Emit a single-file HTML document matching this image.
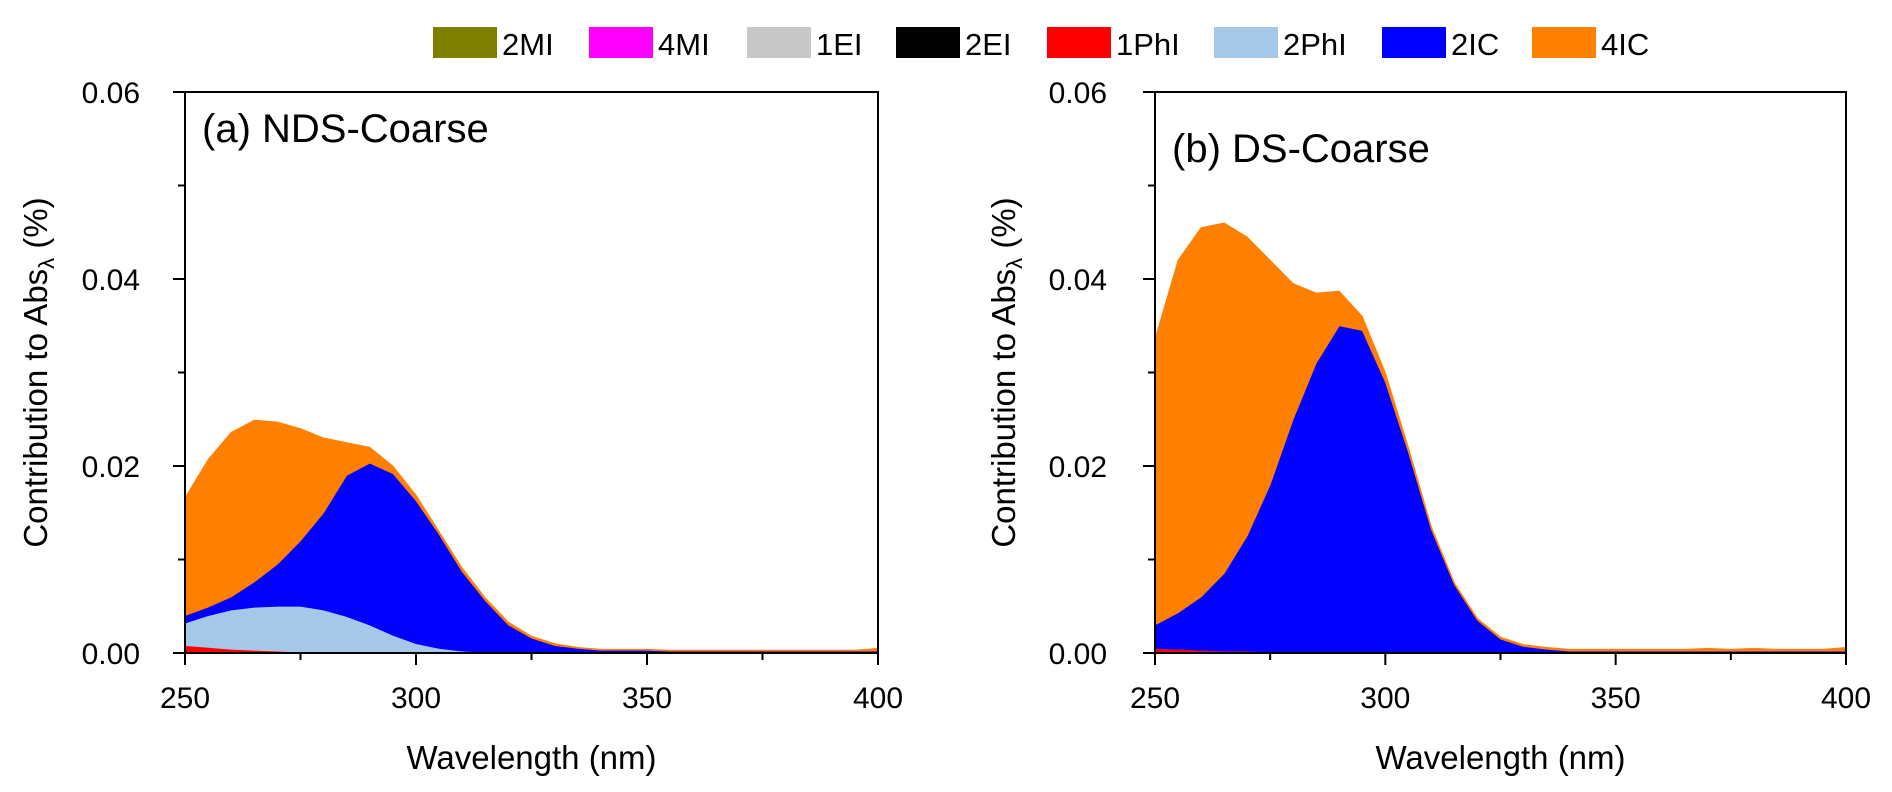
<!DOCTYPE html>
<html><head><meta charset="utf-8"><style>
body{margin:0;background:#fff;}
svg{display:block;font-family:"Liberation Sans",sans-serif;}
</style></head><body>
<svg id="chart" width="1892" height="792" viewBox="0 0 1892 792"></svg>
<script>
const wavelengths=[250,255,260,265,270,275,280,285,290,295,300,305,310,315,320,325,330,335,340,345,350,355,360,365,370,375,380,385,390,395,400];
const seriesNames=["2MI","4MI","1EI","2EI","1PhI","2PhI","2IC","4IC"];
const seriesColors=["#808000","#FF00FF","#C8C8C8","#000000","#FF0000","#A6C8E8","#0000FF","#FF8000"];
const yTicks=[0,0.02,0.04,0.06];
const yTickLabels=["0.00","0.02","0.04","0.06"];
const xTicks=[250,300,350,400];
const a_1PhI=[0.0008,0.0006,0.0004,0.0003,0.0002,0.0001,0.0001,0.0001,0,0,0,0,0,0,0,0,0,0,0,0,0,0,0,0,0,0,0,0,0,0,0];
const a_2PhI=[0.0024,0.0034,0.0042,0.0046,0.0048,0.0049,0.0045,0.0038,0.003,0.0019,0.001,0.0005,0.0002,0.0001,0,0,0,0,0,0,0,0,0,0,0,0,0,0,0,0,0];
const a_2IC=[0.0008,0.0009,0.0014,0.0027,0.0045,0.007,0.0104,0.0151,0.0173,0.0173,0.0153,0.0122,0.0085,0.0055,0.003,0.0016,0.0008,0.0005,0.0003,0.0003,0.0003,0.0002,0.0002,0.0002,0.0002,0.0002,0.0002,0.0002,0.0002,0.0002,0.0002];
const a_4IC=[0.0126,0.0158,0.0176,0.0173,0.0152,0.012,0.008,0.0035,0.0017,0.0008,0.0006,0.0003,0.0004,0.0003,0.0003,0.0002,0.0002,0.0001,0.0001,0.0001,0.0001,0.0001,0.0001,0.0001,0.0001,0.0001,0.0001,0.0001,0.0001,0.0001,0.0003];
const b_1PhI=[0.0005,0.0004,0.0003,0.0002,0.0002,0.0001,0.0001,0,0,0,0,0,0,0,0,0,0,0,0,0,0,0,0,0,0,0,0,0,0,0,0];
const b_2PhI=[0,0,0,0,0,0,0,0,0,0,0,0,0,0,0,0,0,0,0,0,0,0,0,0,0,0,0,0,0,0,0];
const b_2IC=[0.0025,0.0039,0.0057,0.0083,0.0123,0.0179,0.0249,0.031,0.035,0.0345,0.029,0.0215,0.0132,0.0073,0.0035,0.0015,0.0007,0.0004,0.0002,0.0002,0.0002,0.0002,0.0002,0.0002,0.0002,0.0002,0.0002,0.0002,0.0002,0.0002,0.0002];
const b_4IC=[0.0306,0.0377,0.0395,0.0375,0.032,0.024,0.0145,0.0075,0.0037,0.0015,0.001,0.0005,0.0003,0.0002,0.0002,0.0002,0.0002,0.0002,0.0002,0.0002,0.0002,0.0002,0.0002,0.0002,0.0003,0.0002,0.0003,0.0002,0.0002,0.0002,0.0004];

const NS="http://www.w3.org/2000/svg";
const svg=document.getElementById('chart');
function mk(tag,attrs,parent,text){const e=document.createElementNS(NS,tag);for(const k in attrs)e.setAttribute(k,attrs[k]);if(text!==undefined)e.textContent=text;(parent||svg).appendChild(e);return e;}

const legX=[433,589,747,896,1047,1214,1382,1532];
seriesNames.forEach((n,i)=>{
  const g=mk('g',{});
  
  
  mk('rect',{x:legX[i],y:27,width:64,height:31,fill:seriesColors[i]},g);
  mk('text',{x:legX[i]+69,y:55,'font-size':31},g,n);
});

const Y0=653,PY=93.5/0.01;
function panel(id,X0,X1,label,labelY,layers,ytitleX,ylabX){
  const g=mk('g',{});
  
  
  const sx=v=>X0+(v-250)/150*(X1-X0);
  const sy=v=>Y0-v*PY;
  let base=new Array(wavelengths.length).fill(0);
  layers.forEach(([name,vals,color])=>{
    const top=base.map((b,i)=>b+vals[i]);
    let d='M'+wavelengths.map((w,i)=>sx(w)+','+sy(top[i])).join(' L');
    for(let i=wavelengths.length-1;i>=0;i--)d+=' L'+sx(wavelengths[i])+','+sy(base[i]);
    const p=mk('path',{d:d+'Z',fill:color,stroke:color,'stroke-width':0.8},g);
    
    
    base=top;
  });
  mk('rect',{x:X0,y:sy(0.06),width:X1-X0,height:sy(0)-sy(0.06),fill:'none',stroke:'#000','stroke-width':2},g);
  yTicks.forEach((t,i)=>{
    mk('line',{x1:X0-12,x2:X0,y1:sy(t),y2:sy(t),stroke:'#000','stroke-width':2},g);
    const tl=mk('text',{x:ylabX,y:sy(t)+11,'font-size':30,'text-anchor':'end'},g,yTickLabels[i]);
    
    
  });
  [0.01,0.03,0.05].forEach(t=>mk('line',{x1:X0-7,x2:X0,y1:sy(t),y2:sy(t),stroke:'#000','stroke-width':2},g));
  xTicks.forEach(t=>{
    mk('line',{x1:sx(t),x2:sx(t),y1:Y0,y2:Y0+12,stroke:'#000','stroke-width':2},g);
    const tl=mk('text',{x:sx(t),y:708,'font-size':30,'text-anchor':'middle'},g,String(t));
    
    
  });
  [275,325,375].forEach(t=>mk('line',{x1:sx(t),x2:sx(t),y1:Y0,y2:Y0+7,stroke:'#000','stroke-width':2},g));
  const xt=mk('text',{x:(X0+X1)/2,y:769,'font-size':33,'text-anchor':'middle'},g,'Wavelength (nm)');
  
  
  const yt=mk('text',{x:0,y:0,'font-size':33,'text-anchor':'middle',transform:`translate(${ytitleX},${(Y0+sy(0.06))/2}) rotate(-90)`},g);
  
  
  yt.appendChild(document.createTextNode('Contribution to Abs'));
  mk('tspan',{'font-size':22,dy:7},yt,'λ');
  mk('tspan',{dy:-7},yt,' (%)');
  const pl=mk('text',{x:X0+17,y:labelY,'font-size':40},g,label);
  
  
}
panel('a',185,878,'(a) NDS-Coarse',142,[['1phi',a_1PhI,'#FF0000'],['2phi',a_2PhI,'#A6C8E8'],['2ic',a_2IC,'#0000FF'],['4ic',a_4IC,'#FF8000']],47,140);
panel('b',1155,1846,'(b) DS-Coarse',162,[['1phi',b_1PhI,'#FF0000'],['2phi',b_2PhI,'#A6C8E8'],['2ic',b_2IC,'#0000FF'],['4ic',b_4IC,'#FF8000']],1015,1107);
</script>
</body></html>
